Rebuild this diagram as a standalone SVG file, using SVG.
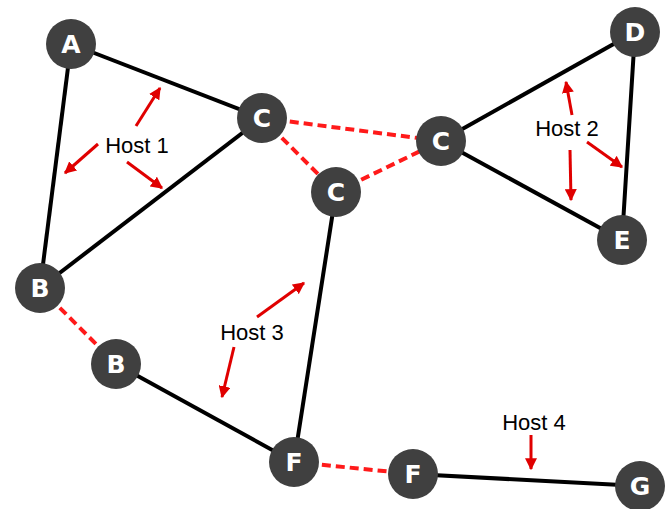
<svg xmlns="http://www.w3.org/2000/svg" width="666" height="509" viewBox="0 0 666 509">
<style>
.e{stroke:#000;stroke-width:4;fill:none}
.d{stroke:#ff1a1a;stroke-width:4;stroke-dasharray:9 5;fill:none}
.a{stroke:#e00000;stroke-width:3;fill:none;marker-end:url(#ah)}
.n circle{fill:#404040}
.n text{fill:#fff;font-family:"DejaVu Sans",Verdana,sans-serif;font-weight:bold;font-size:25px;text-anchor:middle}
.h{font-family:"Liberation Sans",Arial,sans-serif;font-size:22px;fill:#000;text-anchor:middle}
</style>
<defs>
<marker id="ah" viewBox="0 0 10 10" refX="9" refY="5" markerWidth="4" markerHeight="4" orient="auto" markerUnits="strokeWidth">
<path d="M0,0 L10,5 L0,10 z" fill="#e00000"/>
</marker>
</defs>
<rect width="666" height="509" fill="#fff"/>
<g id="connectors">
<line class="e" x1="71" y1="44" x2="262" y2="118"/>
<line class="e" x1="71" y1="44" x2="40" y2="288"/>
<line class="e" x1="40" y1="288" x2="262" y2="118"/>
<line class="d" x1="262" y1="118" x2="441" y2="141"/>
<line class="d" x1="262" y1="118" x2="336" y2="192"/>
<line class="d" x1="336" y1="192" x2="441" y2="141"/>
<line class="e" x1="441" y1="141" x2="635" y2="32"/>
<line class="e" x1="441" y1="141" x2="622" y2="240"/>
<line class="e" x1="635" y1="32" x2="622" y2="240"/>
<line class="e" x1="336" y1="192" x2="294" y2="462"/>
<line class="d" x1="40" y1="288" x2="116" y2="364"/>
<line class="e" x1="116" y1="364" x2="294" y2="462"/>
<line class="d" x1="294" y1="462" x2="413" y2="474"/>
<line class="e" x1="413" y1="474" x2="640" y2="486"/>
</g>
<g id="host-arrows">
<line class="a" x1="136" y1="126" x2="160" y2="88"/>
<line class="a" x1="98" y1="144" x2="65" y2="173"/>
<line class="a" x1="127" y1="162" x2="162" y2="188"/>
<line class="a" x1="572" y1="115" x2="566" y2="82"/>
<line class="a" x1="570" y1="150" x2="571" y2="200"/>
<line class="a" x1="587" y1="142" x2="622" y2="167"/>
<line class="a" x1="257" y1="317" x2="304" y2="283"/>
<line class="a" x1="234" y1="347" x2="222" y2="397"/>
<line class="a" x1="531" y1="435" x2="531" y2="469"/>
</g>
<g id="labels">
<text class="h" x="137" y="153">Host 1</text>
<text class="h" x="567" y="136">Host 2</text>
<text class="h" x="252" y="340">Host 3</text>
<text class="h" x="534" y="430">Host 4</text>
</g>
<g id="node-A" class="n"><circle cx="71" cy="44" r="25"/><text x="71" y="53">A</text></g>
<g id="node-C1" class="n"><circle cx="262" cy="118" r="25"/><text x="262" y="127">C</text></g>
<g id="node-C2" class="n"><circle cx="336" cy="192" r="25"/><text x="336" y="201">C</text></g>
<g id="node-C3" class="n"><circle cx="441" cy="141" r="25"/><text x="441" y="150">C</text></g>
<g id="node-D" class="n"><circle cx="635" cy="32" r="25"/><text x="635" y="41">D</text></g>
<g id="node-E" class="n"><circle cx="622" cy="240" r="25"/><text x="622" y="249">E</text></g>
<g id="node-B1" class="n"><circle cx="40" cy="288" r="25"/><text x="40" y="297">B</text></g>
<g id="node-B2" class="n"><circle cx="116" cy="364" r="25"/><text x="116" y="373">B</text></g>
<g id="node-F1" class="n"><circle cx="294" cy="462" r="25"/><text x="294" y="471">F</text></g>
<g id="node-F2" class="n"><circle cx="413" cy="474" r="25"/><text x="413" y="483">F</text></g>
<g id="node-G" class="n"><circle cx="640" cy="486" r="25"/><text x="640" y="495">G</text></g>
</svg>
